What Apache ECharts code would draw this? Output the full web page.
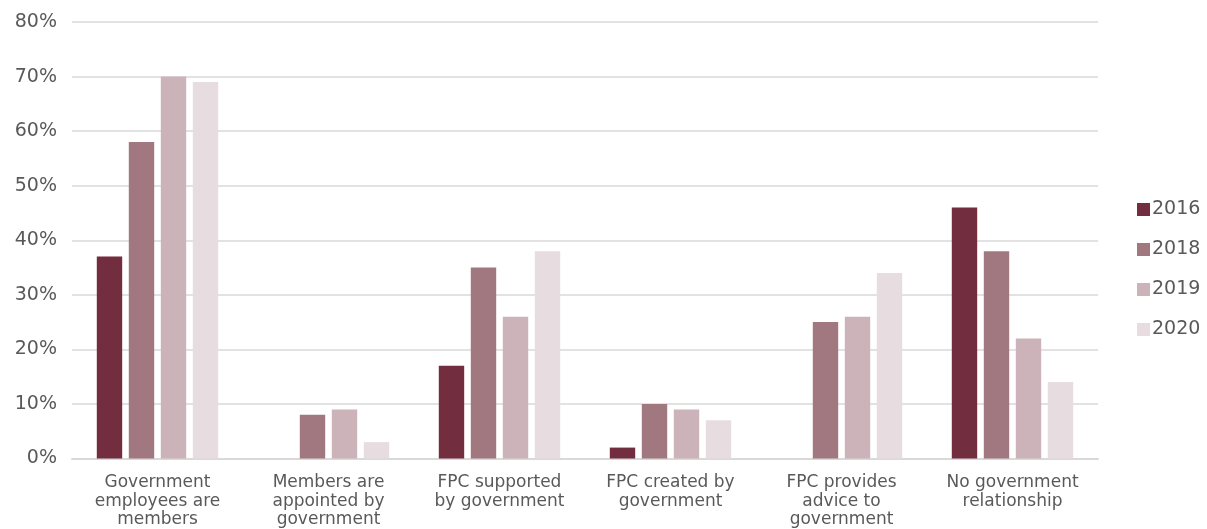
<!DOCTYPE html>
<html>
<head>
<meta charset="utf-8">
<script src="https://cdn.jsdelivr.net/npm/echarts@6/dist/echarts.min.js"></script>
<style>
  html, body { margin: 0; padding: 0; background: #ffffff; }
  #chart { width: 1207px; height: 529px; }
</style>
</head>
<body>
<div id="chart"></div>
<script>
// Relationship categories (x axis)
const categories = [
  'Government\nemployees are\nmembers',
  'Members are\nappointed by\ngovernment',
  'FPC supported\nby government',
  'FPC created by\ngovernment',
  'FPC provides\nadvice to\ngovernment',
  'No government\nrelationship'
];

// Share of respondents (%) per survey year
const years = ['2016', '2018', '2019', '2020'];
const values2016 = [37, 0, 17, 2, 0, 46];
const values2018 = [58, 8, 35, 10, 25, 38];
const values2019 = [70, 9, 26, 9, 26, 22];
const values2020 = [69, 3, 38, 7, 34, 14];

// Y axis ticks: 0% .. 80%
const yMin = 0;
const yMax = 80;
const yStep = 10;

const palette = ['#722d3f', '#a17880', '#ccb3b9', '#e7dce0'];
const fontFamily = '"DejaVu Sans", "Noto Sans", sans-serif';
const textColor = '#595959';

const seriesData = [values2016, values2018, values2019, values2020];

const chart = echarts.init(document.getElementById('chart'), null, { renderer: 'canvas' });

chart.setOption({
  animation: false,
  color: palette,
  textStyle: { fontFamily: fontFamily },
  grid: { left: 72, right: 109, top: 22, bottom: 69, containLabel: false },
  legend: {
    orient: 'vertical',
    left: 1132,
    top: 195,
    itemWidth: 13,
    itemHeight: 13,
    itemGap: 21,
    icon: 'rect',
    textStyle: { fontSize: 19, color: textColor, fontFamily: fontFamily, padding: [0, 0, 0, -3] },
    data: years
  },
  xAxis: {
    type: 'category',
    data: categories,
    axisLine: { show: true, lineStyle: { color: '#d9d9d9', width: 2 } },
    axisTick: { show: false },
    axisLabel: {
      interval: 0,
      color: textColor,
      fontSize: 17,
      lineHeight: 18.5,
      margin: 15,
      fontFamily: fontFamily
    }
  },
  yAxis: {
    type: 'value',
    min: yMin,
    max: yMax,
    interval: yStep,
    axisLine: { show: false },
    axisTick: { show: false },
    splitLine: { lineStyle: { color: '#d9d9d9', width: 1.5 } },
    axisLabel: {
      color: textColor,
      fontSize: 19,
      margin: 15,
      fontFamily: fontFamily,
      formatter: v => v + '%'
    }
  },
  series: years.map((y, i) => ({
    name: y,
    type: 'bar',
    data: seriesData[i],
    barGap: '26%',
    barCategoryGap: '29%',
    itemStyle: { color: palette[i] }
  }))
});
</script>
</body>
</html>
